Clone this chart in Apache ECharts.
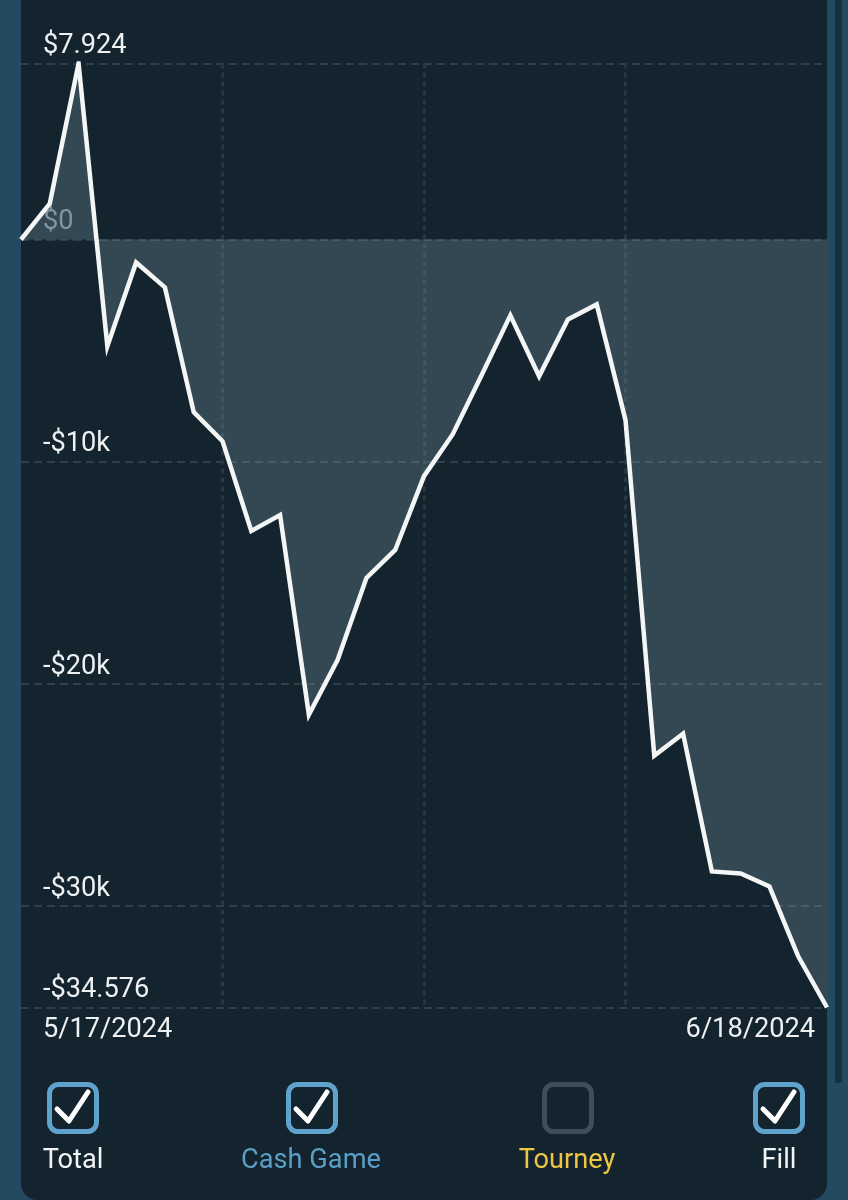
<!DOCTYPE html>
<html>
<head>
<meta charset="utf-8">
<title>Results graph</title>
<style>
  html, body { margin: 0; padding: 0; background: #234a61; }
  #chart { width: 848px; height: 1200px; }
</style>
<script src="https://cdn.jsdelivr.net/npm/echarts@6/dist/echarts.min.js"></script>
</head>
<body>
<div id="chart"></div>
<script>
// session dates, only first and last are readable
var dates = ['5/17/2024', '', '', '', '', '', '', '', '', '', '', '', '', '', '',
             '', '', '', '', '', '', '', '', '', '', '', '', '', '6/18/2024'];
var total = [0, 1618, 7924, -4809, -1034, -2157, -7775, -9079, -13124, -12404,
             -21393, -18921, -15236, -13978, -10652, -8764, -6112, -3416, -6157, -3596,
             -2921, -8135, -23236, -22247, -28449, -28539, -29124, -32270, -34576];
var yTicks = [7924, 0, -10000, -20000, -30000, -34576];
var yTickLabels = ['$7.924', '$0', '-$10k', '-$20k', '-$30k', '-$34.576'];
var toggles = ['Total', 'Cash Game', 'Tourney', 'Fill'];
var toggleOn = [true, true, false, true];
var toggleColors = ['#f2f4f5', '#5b9fc6', '#eec643', '#f2f4f5'];

var FONT = 'Roboto';
var toggleBoxX = [47, 286, 542, 753];
var toggleTextX = [73, 311, 567, 779];

var graphics = [
    // card behind the plot
    { type: 'rect', z: -1, shape: { x: 21, y: -40, width: 806, height: 1240, r: 16 }, style: { fill: '#14242e' } },
    // scrollbar
    { type: 'rect', z: -1, shape: { x: 835, y: -10, width: 7, height: 1093, r: 3 }, style: { fill: '#15303f' } }
];
toggles.forEach(function (name, i) {
    var x = toggleBoxX[i];
    graphics.push({
        type: 'rect',
        shape: { x: x + 2.5, y: 1084.5, width: 47, height: 47, r: 9 },
        style: { fill: 'transparent', stroke: toggleOn[i] ? '#5fa3cc' : '#3d4d59', lineWidth: 5 }
    });
    if (toggleOn[i]) {
        graphics.push({
            type: 'polyline',
            shape: { points: [[x + 10, 1109], [x + 22, 1121], [x + 41, 1092]] },
            style: { fill: 'none', stroke: '#ffffff', lineWidth: 5, lineCap: 'round', lineJoin: 'round' }
        });
    }
    graphics.push({
        type: 'text',
        style: {
            x: toggleTextX[i], y: 1161.5, text: name, fill: toggleColors[i],
            font: '27.2px ' + FONT, textAlign: 'center', textVerticalAlign: 'middle'
        }
    });
});

var chart = echarts.init(document.getElementById('chart'), null, { renderer: 'canvas' });
chart.setOption({
    animation: false,
    backgroundColor: '#234a61',
    textStyle: { fontFamily: FONT },
    grid: { left: 21, right: 21, top: 63.5, bottom: 192.5, containLabel: false },
    xAxis: {
        type: 'category',
        boundaryGap: false,
        data: dates,
        axisLine: { show: false },
        axisTick: { show: false },
        axisLabel: {
            interval: 0,
            margin: 9,
            alignMinLabel: 'left',
            alignMaxLabel: 'right',
            formatter: function (value, index) {
                if (index === 0) return '{first|' + value + '}';
                if (index === dates.length - 1) return '{last|' + value + '}';
                return '';
            },
            rich: {
                first: { fontFamily: FONT, fontSize: 27.2, color: '#eef1f2', padding: [0, 0, 0, 22] },
                last: { fontFamily: FONT, fontSize: 27.2, color: '#eef1f2', padding: [0, 12, 0, 0] }
            }
        },
        splitLine: {
            show: true,
            interval: function (index) { return index > 0 && index < 28 && index % 7 === 0; },
            lineStyle: { color: '#25373f', width: 3, type: [5, 4] }
        }
    },
    yAxis: {
        type: 'value',
        min: -34576,
        max: 7924,
        axisLine: { show: false },
        axisTick: { show: false, customValues: yTicks },
        axisLabel: {
            inside: true,
            margin: 22,
            customValues: yTicks,
            fontFamily: FONT,
            fontSize: 27.2,
            verticalAlign: 'bottom',
            lineHeight: 34,
            color: function (value) { return Number(value) === 0 ? '#7e8d96' : '#eef1f2'; },
            formatter: function (value) { return yTickLabels[yTicks.indexOf(value)]; }
        },
        splitLine: {
            show: true,
            showMinLine: true,
            showMaxLine: true,
            lineStyle: { color: '#2d414c', width: 2, type: [8, 5] }
        }
    },
    graphic: { elements: graphics },
    series: [{
        name: 'Total',
        type: 'line',
        data: total,
        smooth: false,
        symbol: 'none',
        lineStyle: { color: '#f4f6f6', width: 4.5, join: 'miter' },
        areaStyle: { color: 'rgba(140,170,185,0.27)', opacity: 1, origin: 0 }
    }]
});
</script>
</body>
</html>
